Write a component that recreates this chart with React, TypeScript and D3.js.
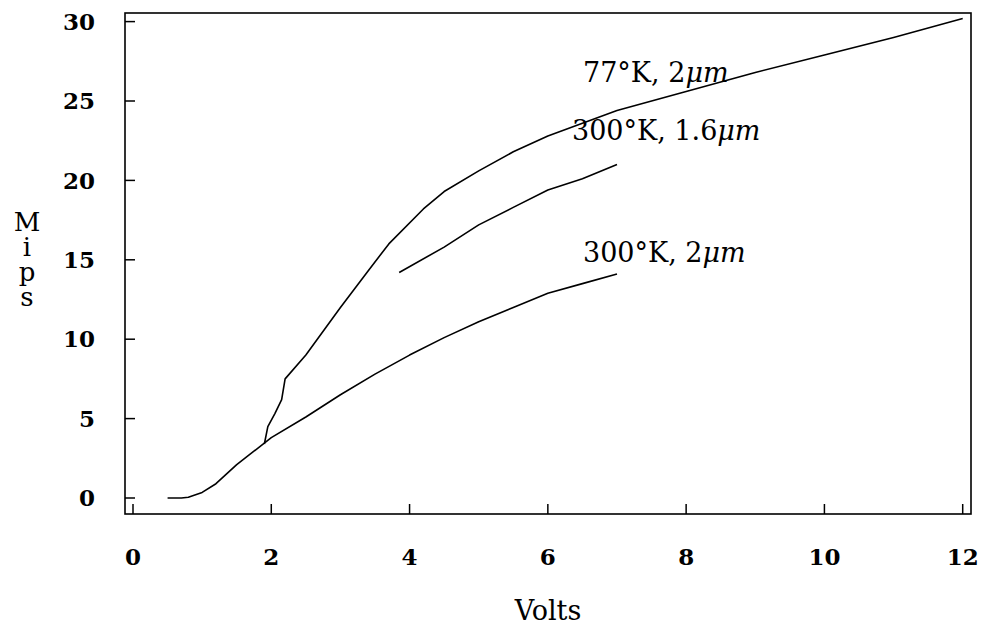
import React from "react"
import * as d3 from "d3"

// Mips vs supply voltage, three process/temperature curves
const volts77 = [1.9, 1.95, 2.05, 2.15, 2.2, 2.5, 3.0, 3.4, 3.7, 4.2, 4.5, 5.0, 5.5, 6.0, 6.5, 7.0, 8.0, 9.0, 10.0, 11.0, 12.0]
const mips77 = [3.4, 4.5, 5.3, 6.2, 7.5, 9.0, 12.0, 14.3, 16.0, 18.2, 19.3, 20.6, 21.8, 22.8, 23.6, 24.4, 25.6, 26.8, 27.9, 29.0, 30.2]

const volts300a = [3.85, 4.5, 5.0, 5.5, 6.0, 6.5, 7.0]
const mips300a = [14.2, 15.8, 17.2, 18.3, 19.4, 20.1, 21.0]

const volts300b = [0.5, 0.7, 0.8, 1.0, 1.2, 1.5, 2.0, 2.5, 3.0, 3.5, 4.0, 4.5, 5.0, 5.5, 6.0, 6.5, 7.0]
const mips300b = [0, 0, 0.05, 0.35, 0.9, 2.1, 3.8, 5.1, 6.5, 7.8, 9.0, 10.1, 11.1, 12.0, 12.9, 13.5, 14.1]

const xTicks = [0, 2, 4, 6, 8, 10, 12]
const yTicks = [0, 5, 10, 15, 20, 25, 30]
const yLabel = "Mips"

const W = 985
const H = 631
const FONT = "'DejaVu Serif', serif"

export default function App() {
  const x = d3.scaleLinear().domain([0, 12]).range([133, 962.7])
  const y = d3.scaleLinear().domain([0, 30]).range([498, 21.6])

  // plot frame sits a bit outside the tick range
  const frame = { left: 125, right: 971, top: 13, bottom: 514 }

  const line = d3.line<[number, number]>()
    .x(d => x(d[0]))
    .y(d => y(d[1]))

  const zip = (a: number[], b: number[]) => a.map((v, i) => [v, b[i]] as [number, number])

  const curves = [
    zip(volts77, mips77),
    zip(volts300a, mips300a),
    zip(volts300b, mips300b),
  ]

  return (
    <svg width={W} height={H} style={{ position: "absolute", left: 0, top: 0, background: "#fff" }}
      fontFamily={FONT}>
      <rect x={frame.left} y={frame.top} width={frame.right - frame.left}
        height={frame.bottom - frame.top} fill="none" stroke="#000" strokeWidth={1.6} />

      {yTicks.map(t => (
        <g key={"y" + t}>
          <line x1={frame.left} x2={frame.left + 10} y1={y(t)} y2={y(t)} stroke="#000" strokeWidth={1.5} />
          <text x={95} y={y(t)} dy="0.36em" textAnchor="end" fontSize={23} fontWeight="bold">{t}</text>
        </g>
      ))}

      {xTicks.map(t => (
        <g key={"x" + t}>
          <line x1={x(t)} x2={x(t)} y1={frame.bottom} y2={frame.bottom - 10} stroke="#000" strokeWidth={1.5} />
          <text x={x(t)} y={565} textAnchor="middle" fontSize={23} fontWeight="bold">{t}</text>
        </g>
      ))}

      <text x={(frame.left + frame.right) / 2} y={620} textAnchor="middle" fontSize={27}>Volts</text>

      {/* letters stacked upright, one text element */}
      <text x={27} y={207} fontSize={26} letterSpacing={-5}
        style={{ writingMode: "vertical-rl", textOrientation: "upright" } as React.CSSProperties}>
        {yLabel}
      </text>

      {curves.map((c, i) => (
        <path key={i} d={line(c) ?? ""} fill="none" stroke="#000" strokeWidth={1.6} strokeLinejoin="round" />
      ))}

      <text x={583} y={82} fontSize={27}>
        77°K, 2<tspan fontStyle="italic">μm</tspan>
      </text>
      <text x={572} y={140} fontSize={27}>
        300°K, 1.6<tspan fontStyle="italic">μm</tspan>
      </text>
      <text x={583} y={262} fontSize={27}>
        300°K, 2<tspan fontStyle="italic">μm</tspan>
      </text>
    </svg>
  )
}
